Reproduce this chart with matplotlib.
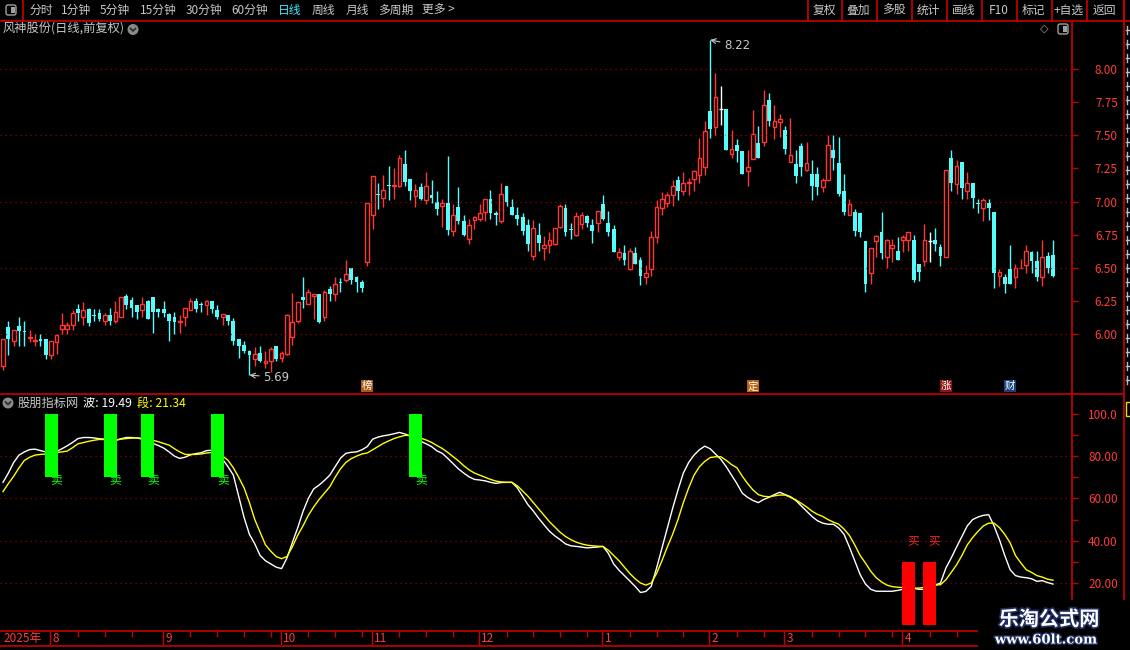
import numpy as np
import matplotlib.pyplot as plt
import matplotlib.patheffects as pe
import matplotlib.transforms as mtransforms
from matplotlib.patches import Rectangle, Circle, FancyBboxPatch

plt.rcParams['font.family'] = ['Noto Sans CJK SC', 'DejaVu Sans']

# daily candles, 2025-07 .. 2026-04
opens = [5.76, 6.05, 5.95, 6.06, 6.02, 5.97, 5.95, 5.96, 5.96, 5.84,
         5.94, 6.04, 6.04, 6.07, 6.19, 6.13, 6.19, 6.14, 6.16, 6.10,
         6.14, 6.10, 6.13, 6.29, 6.26, 6.22, 6.18, 6.25, 6.28, 6.19,
         6.19, 6.15, 6.13, 6.09, 6.13, 6.18, 6.25, 6.22, 6.22, 6.25,
         6.18, 6.13, 6.14, 6.10, 5.96, 5.92, 5.87, 5.81, 5.86, 5.78,
         5.80, 5.91, 5.82, 5.85, 5.98, 6.10, 6.28, 6.23, 6.29, 6.30,
         6.13, 6.34, 6.30, 6.39, 6.41, 6.50, 6.43, 6.39, 6.54, 6.90,
         7.06, 7.03, 7.12, 7.12, 7.12, 7.28, 7.17, 7.04, 7.11, 7.01,
         7.05, 7.00, 6.97, 6.99, 6.78, 6.96, 6.85, 6.72, 6.86, 6.87,
         6.92, 7.02, 6.91, 6.85, 7.12, 6.96, 6.90, 6.88, 6.82, 6.59,
         6.75, 6.65, 6.67, 6.68, 6.81, 6.95, 6.79, 6.75, 6.83, 6.89,
         6.82, 6.84, 6.98, 6.84, 6.79, 6.58, 6.61, 6.49, 6.61, 6.56,
         6.43, 6.49, 6.73, 6.95, 6.99, 7.05, 7.16, 7.08, 7.14, 7.17,
         7.20, 7.26, 7.68, 7.56, 7.70, 7.70, 7.36, 7.43, 7.38, 7.23,
         7.32, 7.44, 7.45, 7.77, 7.56, 7.60, 7.54, 7.30, 7.28, 7.42,
         7.24, 7.21, 7.21, 7.11, 7.16, 7.39, 7.29, 7.08, 6.90, 6.92,
         6.91, 6.70, 6.46, 6.70, 6.77, 6.58, 6.65, 6.63, 6.71, 6.71,
         6.71, 6.53, 6.55, 6.70, 6.71, 6.66, 6.58, 7.33, 7.13, 7.30,
         7.08, 7.14, 6.99, 6.95, 6.99, 6.92, 6.44, 6.43, 6.49, 6.43,
         6.495, 6.52, 6.62, 6.55, 6.43, 6.59, 6.60]
closes = [5.96, 5.96, 6.03, 6.02, 6.015, 5.975, 5.955, 5.945, 5.84, 5.95,
          5.99, 6.07, 6.07, 6.16, 6.16, 6.18, 6.08, 6.133, 6.11, 6.14,
          6.10, 6.17, 6.28, 6.22, 6.20, 6.17, 6.23, 6.11, 6.17, 6.17,
          6.16, 6.10, 6.09, 6.10, 6.20, 6.25, 6.19, 6.218, 6.25, 6.19,
          6.13, 6.15, 6.10, 5.95, 5.91, 5.87, 5.84, 5.85, 5.80, 5.80,
          5.89, 5.81, 5.86, 6.14, 6.09, 6.24, 6.255, 6.32, 6.30, 6.09,
          6.32, 6.305, 6.38, 6.384, 6.45, 6.41, 6.39, 6.35, 6.99, 7.19,
          7.05, 7.09, 7.118, 7.123, 7.33, 7.15, 7.08, 7.09, 7.02, 7.12,
          7.025, 6.94, 6.99, 6.785, 6.90, 6.85, 6.75, 6.82, 6.88, 6.91,
          7.02, 6.91, 6.90, 7.06, 7.00, 6.90, 6.87, 6.78, 6.68, 6.80,
          6.69, 6.67, 6.71, 6.80, 6.97, 6.77, 6.786, 6.89, 6.90, 6.84,
          6.78, 6.93, 6.87, 6.77, 6.62, 6.62, 6.56, 6.63, 6.53, 6.44,
          6.46, 6.73, 6.96, 7.02, 7.05, 7.12, 7.08, 7.14, 7.15, 7.23,
          7.33, 7.53, 7.55, 7.79, 7.70, 7.39, 7.40, 7.385, 7.21, 7.26,
          7.51, 7.33, 7.73, 7.61, 7.61, 7.62, 7.40, 7.35, 7.19, 7.26,
          7.29, 7.12, 7.11, 7.16, 7.43, 7.33, 7.06, 6.92, 6.98, 6.78,
          6.77, 6.38, 6.65, 6.74, 6.61, 6.71, 6.67, 6.56, 6.73, 6.77,
          6.41, 6.47, 6.71, 6.70, 6.68, 6.59, 7.24, 7.14, 7.27, 7.10,
          7.14, 7.03, 6.985, 7.01, 6.95, 6.46, 6.465, 6.38, 6.38, 6.50,
          6.50, 6.63, 6.55, 6.43, 6.58, 6.50, 6.44]
highs = [5.96, 6.10, 6.03, 6.13, 6.10, 6.03, 6.00, 6.00, 5.96, 5.95,
         6.00, 6.16, 6.09, 6.18, 6.23, 6.24, 6.20, 6.19, 6.19, 6.16,
         6.20, 6.25, 6.28, 6.30, 6.28, 6.22, 6.28, 6.26, 6.28, 6.20,
         6.25, 6.16, 6.17, 6.14, 6.20, 6.27, 6.27, 6.24, 6.26, 6.25,
         6.22, 6.15, 6.14, 6.12, 5.96, 5.95, 5.88, 5.90, 5.91, 5.87,
         5.90, 5.91, 5.87, 6.15, 6.31, 6.24, 6.43, 6.34, 6.30, 6.30,
         6.33, 6.36, 6.43, 6.42, 6.56, 6.50, 6.44, 6.41, 6.99, 7.19,
         7.14, 7.20, 7.27, 7.25, 7.35, 7.39, 7.17, 7.13, 7.14, 7.22,
         7.16, 7.08, 7.02, 7.34, 6.98, 7.11, 6.90, 6.87, 6.89, 6.98,
         7.02, 7.09, 6.93, 7.14, 7.12, 7.02, 6.96, 6.91, 6.87, 6.86,
         6.84, 6.74, 6.77, 6.80, 6.98, 6.98, 6.84, 6.92, 6.92, 6.90,
         6.87, 6.93, 7.05, 6.93, 6.82, 6.65, 6.67, 6.65, 6.66, 6.58,
         6.52, 6.78, 7.01, 7.07, 7.07, 7.16, 7.19, 7.22, 7.18, 7.24,
         7.48, 7.61, 8.22, 7.97, 7.87, 7.70, 7.54, 7.47, 7.38, 7.39,
         7.69, 7.57, 7.84, 7.82, 7.73, 7.66, 7.57, 7.63, 7.39, 7.44,
         7.45, 7.31, 7.26, 7.18, 7.50, 7.50, 7.49, 7.21, 7.02, 6.94,
         6.91, 6.70, 6.65, 6.75, 6.92, 6.72, 6.72, 6.73, 6.75, 6.77,
         6.75, 6.53, 6.83, 6.77, 6.80, 6.68, 7.24, 7.39, 7.31, 7.30,
         7.22, 7.14, 7.02, 7.03, 7.02, 6.92, 6.49, 6.45, 6.67, 6.53,
         6.57, 6.67, 6.63, 6.63, 6.71, 6.62, 6.71]
lows = [5.73, 5.84, 5.91, 5.91, 5.91, 5.94, 5.91, 5.91, 5.81, 5.81,
        5.85, 6.00, 6.00, 6.03, 6.10, 6.07, 6.06, 6.10, 6.10, 6.07,
        6.07, 6.08, 6.13, 6.19, 6.13, 6.11, 6.13, 6.11, 6.01, 6.13,
        6.13, 5.95, 6.00, 6.01, 6.06, 6.18, 6.17, 6.17, 6.14, 6.16,
        6.11, 6.07, 6.07, 5.92, 5.82, 5.86, 5.69, 5.76, 5.79, 5.74,
        5.71, 5.80, 5.79, 5.84, 5.92, 6.08, 6.20, 6.23, 6.11, 6.08,
        6.10, 6.25, 6.25, 6.32, 6.39, 6.38, 6.32, 6.32, 6.51, 6.79,
        6.94, 6.96, 7.01, 7.02, 7.11, 7.12, 7.01, 6.96, 7.01, 6.98,
        6.99, 6.90, 6.81, 6.75, 6.74, 6.83, 6.74, 6.68, 6.79, 6.85,
        6.85, 6.87, 6.82, 6.84, 6.97, 6.90, 6.82, 6.75, 6.63, 6.56,
        6.63, 6.56, 6.61, 6.67, 6.80, 6.74, 6.72, 6.74, 6.79, 6.81,
        6.69, 6.77, 6.86, 6.74, 6.62, 6.56, 6.52, 6.48, 6.53, 6.37,
        6.38, 6.44, 6.69, 6.90, 6.96, 6.97, 7.01, 7.05, 7.05, 7.08,
        7.14, 7.20, 7.48, 7.50, 7.58, 7.39, 7.33, 7.30, 7.21, 7.12,
        7.32, 7.33, 7.42, 7.57, 7.47, 7.49, 7.36, 7.30, 7.14, 7.19,
        7.23, 7.01, 7.05, 7.07, 7.16, 7.24, 7.04, 6.90, 6.90, 6.74,
        6.73, 6.32, 6.38, 6.58, 6.57, 6.50, 6.54, 6.56, 6.62, 6.63,
        6.39, 6.40, 6.51, 6.54, 6.63, 6.51, 6.58, 7.08, 7.06, 7.02,
        7.02, 6.95, 6.91, 6.85, 6.86, 6.35, 6.36, 6.31, 6.38, 6.35,
        6.495, 6.46, 6.46, 6.40, 6.36, 6.46, 6.43]

# indicator lines: 波 (white) and 段 (yellow)
wave = [67.6, 72, 77, 80.5, 82, 83.1, 83.3, 82.6, 82, 81.8,
        82.2, 83.5, 84.9, 86.5, 88.3, 88.8, 88.8, 88.6, 88.2, 88,
        87.7, 87.5, 88.2, 88.8, 88.8, 88.6, 88, 87, 86, 85,
        83.8, 82, 80, 78.9, 79.5, 80.6, 81.2, 81.6, 82.6, 82.8,
        81.5, 78.5, 75, 71, 61, 51, 43, 38.5, 33, 30.5,
        29, 27.5, 26.8, 31.8, 39, 46, 53.8, 60, 64.5, 66.3,
        68.5, 71, 75, 79, 81.3, 81.8, 82, 83, 84.5, 88,
        89, 89.6, 90, 90.6, 91.2, 90.5, 89.5, 88.5, 87, 85.8,
        84.5, 82.5, 81.3, 79, 76.5, 74, 72, 70.2, 69, 68.7,
        68.3, 67.6, 67.1, 67.5, 67.6, 67.6, 65, 61, 57, 54,
        50.6, 47.5, 44.5, 42.3, 40.5, 38.5, 37.6, 37.3, 37, 36.6,
        36.8, 37, 37.3, 34, 29, 26, 23.5, 21, 18.4, 15.5,
        16, 18.4, 27, 36.5, 46, 55.3, 64, 72, 77, 80.5,
        83, 84.7, 83.5, 81, 78.5, 75, 71, 67, 62.5, 60.5,
        59, 58, 59.5, 60.5, 61.8, 62.9, 61.8, 60.8, 59, 56.5,
        54, 51.5, 49.5, 48.3, 47.8, 47.8, 46, 43, 37, 30.5,
        24, 19.5, 17, 16.1, 16.1, 16.1, 16.1, 16.5, 17, 17.5,
        17.5, 17, 17, 18, 19, 20, 27, 31.8, 37, 42,
        47, 50, 51.2, 52, 52.3, 47, 40.5, 33, 26.3, 23.5,
        22.8, 22.5, 22, 20.8, 21.1, 20.2, 19.49]
seg = [63.2, 67, 70.5, 74.5, 78, 79.5, 80.5, 80.8, 81, 81.3,
       81.7, 82, 82.4, 84, 85.8, 86.4, 87, 87.5, 87.9, 87.8,
       87.6, 87.5, 88, 88.3, 88.5, 88.6, 88.5, 88, 87.5, 86.8,
       86, 85.2, 83.5, 82, 80.8, 80.8, 80.8, 81, 81.5, 81.7,
       81.2, 80, 78, 74.5, 70, 65, 58, 50, 44, 38,
       35, 32.5, 31.5, 32.5, 37, 42.5, 47, 52, 56, 59.5,
       62.5, 65.5, 70, 74, 77, 78.8, 80, 81, 81.5, 83,
       84.5, 86, 87.2, 88.3, 89.1, 89.8, 89.8, 89.2, 88.5, 87.6,
       86.5, 85, 83.6, 81.8, 79.8, 77.8, 75.5, 73.5, 72, 71,
       70, 69, 68.2, 67.8, 67.6, 67.6, 66, 63.5, 61, 58,
       55, 52, 49, 46.5, 44, 42, 40.5, 39.3, 38.5, 37.9,
       37.6, 37.4, 37.3, 35.5, 33, 30.5, 27.5, 24.5, 22, 20,
       19, 20, 24.5, 30.5, 37, 43, 50, 58, 65, 71,
       75, 77.5, 79.3, 79.7, 79.7, 78, 76, 74.5, 70.5, 67,
       64, 61.8, 61, 60.8, 61.2, 61.6, 61.6, 60.5, 59.3, 57.7,
       56, 54, 52.5, 51.5, 50, 48.8, 47.8, 45.5, 42.5, 38,
       33, 29.4, 25.5, 22.5, 20.5, 19, 18.3, 18, 17.8, 17.7,
       17.6, 17.6, 18, 18.5, 19, 19.2, 21.5, 25, 28.6, 33,
       38, 41.5, 44.4, 47, 48.3, 48.3, 46.2, 43, 39, 33,
       29.5, 26.3, 25, 23.5, 22.8, 21.8, 21.34]

sell_days = [9, 20, 27, 40, 77]
buy_days = [169, 173]

month_start = [9, 30, 52, 69, 89, 112, 132, 146, 168]
month_names = ['8', '9', '10', '11', '12', '1', '2', '3', '4']

price_ticks = [6.00, 6.25, 6.50, 6.75, 7.00, 7.25, 7.50, 7.75, 8.00]
price_grid = [6.0, 6.5, 7.0, 7.5, 8.0]
ind_ticks = [20, 40, 60, 80, 100]
ind_minor = [30, 50, 70, 90]

events = [(68, '榜', '#a85a14'), (140, '定', '#b8620e'), (176, '涨', '#8a1414'), (188, '财', '#14427a')]

tabs_left = ['分时', '1分钟', '5分钟', '15分钟', '30分钟', '60分钟', '日线', '周线', '月线', '多周期', '更多 >']
tabs_left_x = [29, 61, 100, 140, 186, 231, 278, 312, 346, 378, 422]
tabs_right = ['复权', '叠加', '多股', '统计', '画线', 'F10', '标记', '+自选', '返回']
tabs_right_sep = [807, 841, 876, 911, 946, 981, 1016, 1051, 1086, 1123]

RED = '#ff3636'
CYAN = '#54fcfc'
AXRED = '#c80000'
LBL = '#ff3c3c'
GRID = '#9a0000'
GRAY = '#c8c8c8'

W, H = 1130, 650


def box(x0, y0, x1, y1):
    return [x0 / W, 1 - y1 / H, (x1 - x0) / W, (y1 - y0) / H]


fig = plt.figure(figsize=(W / 100, H / 100), dpi=100, facecolor='black')
xlim = (-0.56, 199.55)

# ---------------- price panel ----------------
ax = fig.add_axes(box(0, 22, 1072, 393), facecolor='black')
ax.set_xlim(*xlim)
ax.set_ylim(5.555, 8.355)
for s in ['left', 'top', 'bottom']:
    ax.spines[s].set_visible(False)
ax.spines['right'].set_color(AXRED)
ax.spines['right'].set_linewidth(1.2)
ax.set_xticks([])
ax.set_yticks(price_ticks)
ax.set_yticklabels([f'{v:.2f}' for v in price_ticks])
ax.tick_params(axis='y', left=False, right=True, labelleft=False, labelright=True,
               direction='out', length=4, width=1, color=AXRED, labelcolor=LBL,
               labelsize=8.5, pad=29)
for lab in ax.get_yticklabels():
    lab.set_horizontalalignment('right')
ax.hlines(price_grid, xlim[0], xlim[1], colors=GRID, linestyles=(0, (1, 3)), lw=0.9)

idx = np.arange(len(opens))
o = np.array(opens)
c = np.array(closes)
hi = np.array(highs)
lo = np.array(lows)
up = c > o
dn = c < o
flat = c == o
bw = 0.7

ax.vlines(idx[dn], lo[dn], hi[dn], color=CYAN, lw=1)
ax.bar(idx[dn], np.maximum(o[dn] - c[dn], 0.007), bottom=c[dn], width=bw, color=CYAN, lw=0)
ax.vlines(idx[up], c[up], hi[up], color=RED, lw=1)
ax.vlines(idx[up], lo[up], o[up], color=RED, lw=1)
ax.bar(idx[up], c[up] - o[up], bottom=o[up], width=bw, facecolor='black', edgecolor=RED, lw=1)
ax.vlines(idx[flat], lo[flat], hi[flat], color='white', lw=1)
ax.hlines(c[flat], idx[flat] - bw / 2, idx[flat] + bw / 2, color='white', lw=1)

ih = int(np.argmax(hi))
il = int(np.argmin(lo))
ax.annotate(f'{hi[ih]:.2f}', xy=(ih, hi[ih]), xytext=(10, -4), textcoords='offset points',
            color=GRAY, fontsize=8.5, ha='left', va='center', family='DejaVu Sans',
            arrowprops=dict(arrowstyle='->', color=GRAY, lw=0.8, shrinkA=1, shrinkB=0))
ax.annotate(f'{lo[il]:.2f}', xy=(il, lo[il]), xytext=(10, -1.5), textcoords='offset points',
            color=GRAY, fontsize=8.5, ha='left', va='center', family='DejaVu Sans',
            arrowprops=dict(arrowstyle='->', color=GRAY, lw=0.8, shrinkA=1, shrinkB=0))

trans = mtransforms.blended_transform_factory(ax.transData, ax.transAxes)
for ei, etxt, ecol in events:
    ax.text(ei, 0.018, etxt, transform=trans, color='white', fontsize=7.5, ha='center', va='center',
            bbox=dict(boxstyle='square,pad=0.08', facecolor=ecol, edgecolor='none'))

# ---------------- indicator panel ----------------
ind = fig.add_axes(box(0, 395, 1072, 629), facecolor='black')
ind.set_xlim(*xlim)
ind.set_ylim(-1.75, 108.9)
for s in ['left', 'top', 'bottom']:
    ind.spines[s].set_visible(False)
ind.spines['right'].set_color(AXRED)
ind.spines['right'].set_linewidth(1.2)
ind.set_xticks([])
ind.set_yticks(ind_ticks)
ind.set_yticklabels(['100.0' if v == 100 else f'{v:.2f}' for v in ind_ticks])
ind.set_yticks(ind_minor, minor=True)
ind.tick_params(axis='y', which='both', left=False, right=True, labelleft=False, labelright=True,
                direction='out', length=4, width=1, color=AXRED, labelcolor=LBL,
                labelsize=8.5, pad=29)
for lab in ind.get_yticklabels():
    lab.set_horizontalalignment('right')
ind.hlines([20, 40, 60, 80], xlim[0], xlim[1], colors=GRID, linestyles=(0, (1, 3)), lw=0.9)

ind.plot(idx, wave, color='white', lw=1.0)
ind.plot(idx, seg, color='#ffff00', lw=1.0)
ind.bar(sell_days, 30, bottom=70, width=2.43, color='#00ff00', lw=0, zorder=3)
ind.bar(buy_days, 30, bottom=0, width=2.43, color='#ff0000', lw=0, zorder=3)
for d in sell_days:
    ind.text(d + 1.0, 69, '卖', color='#00ff00', fontsize=8.5, ha='center', va='center', zorder=4)
for d in buy_days:
    ind.text(d + 0.9, 40, '买', color='#ff2020', fontsize=8.5, ha='center', va='center', zorder=4)

# ---------------- date strip ----------------
dax = fig.add_axes(box(0, 631, 1072, 645), facecolor='black')
dax.set_xlim(*xlim)
dax.set_ylim(0, 1)
dax.axis('off')
minor = []
bounds = month_start + [len(opens)]
for a, b in zip(bounds[:-1], bounds[1:]):
    minor += list(range(a + 5, b - 1, 5))
dax.vlines(np.array(month_start) - 0.15, 0, 1, color=AXRED, lw=1)
dax.vlines(minor, 0.6, 1, color=AXRED, lw=1)
for m, name in zip(month_start, month_names):
    dax.text(m + 0.3, 0.45, name, color=LBL, fontsize=8.5, ha='left', va='center')
dax.text(0.003, 0.45, '2025年', transform=dax.transAxes, color=LBL, fontsize=8.5,
         ha='left', va='center')

# ---------------- window chrome ----------------
ov = fig.add_axes([0, 0, 1, 1])
ov.set_xlim(0, W)
ov.set_ylim(H, 0)
ov.axis('off')
ov.patch.set_alpha(0)
ov.set_zorder(5)

ov.plot([0, W], [20.5, 20.5], color=AXRED, lw=1.2)
ov.plot([0, 1123], [394, 394], color=AXRED, lw=1.2)
ov.plot([0, W], [630.5, 630.5], color=AXRED, lw=1.2)
ov.plot([0, W], [645.5, 645.5], color=AXRED, lw=1.2)
ov.plot([22.5, 22.5], [0, 20.5], color=AXRED, lw=1.2)
ov.plot([1123.5, 1123.5], [0, H], color=AXRED, lw=1.2)
for sx in tabs_right_sep:
    ov.plot([sx + 0.5, sx + 0.5], [0, 20.5], color=AXRED, lw=1.2)

ov.add_patch(FancyBboxPatch((6, 5), 10, 10, boxstyle='round,pad=0,rounding_size=2',
                            facecolor='none', edgecolor='#a0a0a0', lw=1))
ov.add_patch(Rectangle((11, 7), 3.5, 6, facecolor='#a0a0a0', edgecolor='none'))

for t, tx in zip(tabs_left, tabs_left_x):
    ov.text(tx, 10.5, t, color='#3ee8ff' if t == '日线' else GRAY, fontsize=8.5,
            ha='left', va='center')
for i, t in enumerate(tabs_right):
    cx = (tabs_right_sep[i] + tabs_right_sep[i + 1]) / 2
    ov.text(cx, 10.5, t, color=GRAY, fontsize=8.5, ha='center', va='center')

ov.text(3, 29.5, '风神股份(日线,前复权)', color=GRAY, fontsize=8.8, ha='left', va='center')


def chevron(x, y):
    ov.add_patch(Circle((x, y), 5.5, facecolor='#8a8a8a', edgecolor='none'))
    ov.plot([x - 2.5, x, x + 2.5], [y - 1, y + 1.5, y - 1], color='#2a2a2a', lw=1.2)


chevron(133, 29.5)
ov.text(1044, 29, '◇', color='#a0a0a0', fontsize=8, ha='center', va='center', family='DejaVu Sans')
ov.add_patch(FancyBboxPatch((1058, 24), 10, 10, boxstyle='round,pad=0,rounding_size=2',
                            facecolor='none', edgecolor='#a0a0a0', lw=1))
ov.add_patch(Rectangle((1063, 26), 3.5, 6, facecolor='#a0a0a0', edgecolor='none'))

chevron(8, 403)
ov.text(18, 403, '股朋指标网', color=GRAY, fontsize=8.8, ha='left', va='center')
ov.text(83, 403, f'波: {wave[-1]:.2f}', color='white', fontsize=8.8, ha='left', va='center')
ov.text(137, 403, f'段: {seg[-1]:.2f}', color='#ffff00', fontsize=8.8, ha='left', va='center')

# clipped side column (only slivers of it are visible in the window)
for yy in range(30, 390, 14):
    ov.plot([1126, 1130], [yy, yy], color='#bdbdbd', lw=1)
    ov.plot([1127, 1127], [yy - 4, yy + 4], color='#bdbdbd', lw=1)
ov.add_patch(Rectangle((1126, 402), 8, 14, facecolor='none', edgecolor='#e0e000', lw=1))

# watermark
ov.add_patch(Rectangle((978, 600), 152, 50, facecolor='black', edgecolor='none', zorder=6))
ov.text(1049, 619, '乐淘公式网', color='white', fontsize=14.5, fontweight='bold', ha='center',
        va='center', zorder=7, path_effects=[pe.withStroke(linewidth=2.5, foreground='#1c2a5c')])
ov.text(1046, 640, 'www.60lt.com', color='white', fontsize=9.5, fontweight='bold',
        family='DejaVu Serif', ha='center', va='center', zorder=7,
        path_effects=[pe.withStroke(linewidth=2, foreground='#1c2a5c')])

fig.savefig('out.png', dpi=100, facecolor='black')
